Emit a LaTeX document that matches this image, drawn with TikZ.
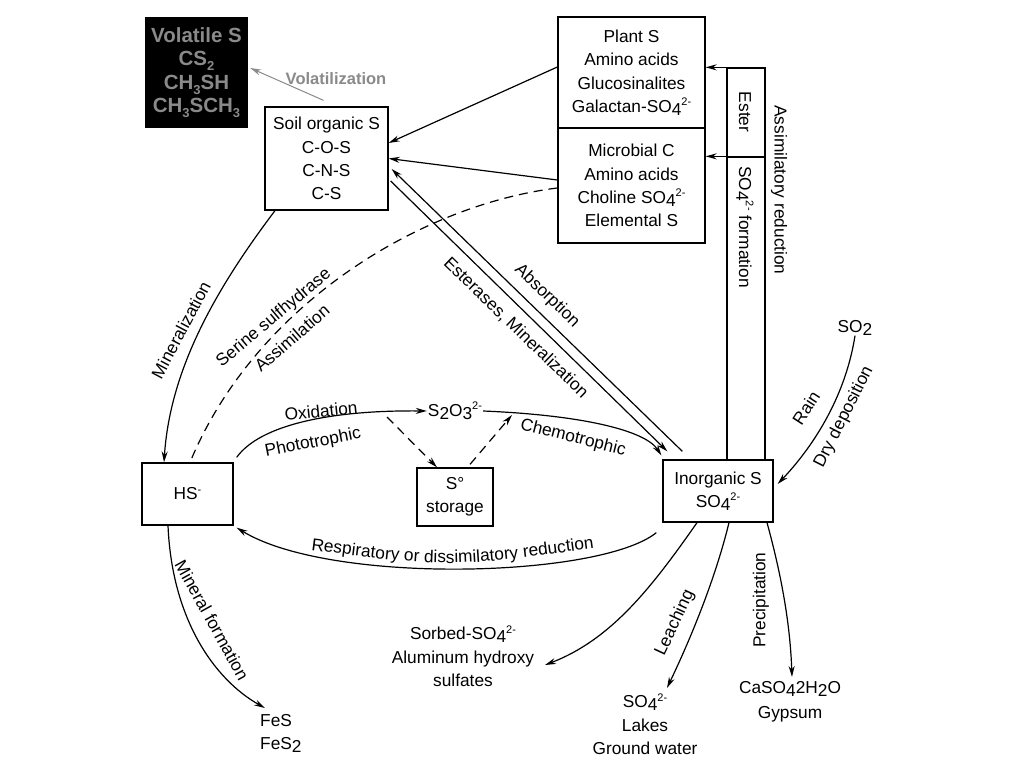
\documentclass[tikz,border=0pt]{standalone}
\usepackage{fontspec}
\setmainfont{Liberation Sans}
\usetikzlibrary{arrows.meta,decorations.text}
\definecolor{volgray}{RGB}{138,138,138}
\newcommand{\mydn}[1]{\raisebox{-0.3ex}{#1}}
\newcommand{\myup}[1]{\raisebox{0.75ex}{\fontsize{11}{11}\selectfont #1}}
\newcommand{\vsub}[1]{\raisebox{-0.45ex}{\fontsize{13}{13}\selectfont #1}}
\begin{document}
\begin{tikzpicture}[x=1pt,y=-1pt,
  every node/.style={font=\fontsize{17.3}{23.3}\selectfont},
  box/.style={draw, line width=1.3pt, inner sep=0pt, align=center},
  lbl/.style={inner sep=0pt},
  grp/.style={inner sep=0pt, align=center},
  arr/.style={line width=1.2pt, -{Stealth[length=11pt,width=6pt]}},
  ln/.style={line width=1.2pt},
  dsh/.style={line width=1.2pt, dash pattern=on 9pt off 6pt},
]
\useasboundingbox (0,0) rectangle (1024,768);
\fill[white] (0,0) rectangle (1024,768);

% boxes
\node[fill=black, minimum width=103, minimum height=111, inner sep=0pt, align=center,
      text=volgray, font=\bfseries\fontsize{20.5}{23.5}\selectfont] (vol) at (196.5,72.5)
  {Volatile S\\CS\vsub{2}\\CH\vsub{3}SH\\CH\vsub{3}SCH\vsub{3}};
\node[box, minimum width=123, minimum height=103] (soil) at (326.5,158.5)
  {Soil organic S\\C-O-S\\C-N-S\\C-S};
\node[box, minimum width=147, minimum height=111] (plant) at (631.5,72.5)
  {Plant S\\Amino acids\\Glucosinalites\\Galactan-SO\mydn{4}\myup{2-}};
\node[box, minimum width=147, minimum height=115] (micro) at (631.5,185.5)
  {Microbial C\\Amino acids\\Choline SO\mydn{4}\myup{2-}\\Elemental S};
\node[box, minimum width=38, minimum height=89] (ester) at (746,112.5) {};
\node[box, minimum width=38, minimum height=303] (form) at (746,308.5) {};
\node[box, minimum width=110, minimum height=62] (inorg) at (718,491)
  {Inorganic S\\SO\mydn{4}\myup{2-}};
\node[box, minimum width=91, minimum height=62] (hs) at (187.5,494) {HS\myup{-}};
\node[box, minimum width=76, minimum height=58] (stor) at (455,497) {S°\\storage};

% plain texts
\node[lbl, inner sep=1pt] (s2o3) at (455,411) {S\mydn{2}O\mydn{3}\myup{2-}};
\node[lbl, rotate=-90] (estert) at (745,112) {Ester};
\node[lbl, rotate=-90] (formt) at (745,227) {SO\mydn{4}\myup{2-} formation};
\node[lbl, rotate=-90] (assimt) at (779,190) {Assimilatory reduction};
\node[lbl, text=volgray, font=\bfseries\fontsize{16.5}{20}\selectfont] (volt) at (336,79) {Volatilization};
\node[lbl, rotate=62] (minert) at (181,330) {Mineralization};
\node[lbl, rotate=40] (serint) at (274,318) {Serine sulfhydrase};
\node[lbl, rotate=41] (assimlt) at (292,338) {Assimilation};
\node[lbl, rotate=-44] (absort) at (547,296) {Absorption};
\node[lbl, rotate=-44] (esterat) at (516,328) {Esterases, Mineralization};
\node[lbl, rotate=6] (oxidt) at (321,411) {Oxidation};
\node[lbl, rotate=11] (photot) at (313,443) {Phototrophic};
\node[lbl, rotate=-14] (chemot) at (573,438) {Chemotrophic};
\node[lbl] (so2) at (855,328) {SO\mydn{2}};
\node[lbl, rotate=57] (raint) at (806,408) {Rain};
\node[lbl, rotate=63] (dryt) at (844,417) {Dry deposition};
\node[lbl, rotate=-61] (mineft) at (212,620) {Mineral formation};
\node[lbl, rotate=65] (leacht) at (675,623) {Leaching};
\node[lbl, rotate=90] (precit) at (761,600) {Precipitation};
\node[grp] (sorbed) at (463,656) {Sorbed-SO\mydn{4}\myup{2-}\\Aluminum hydroxy\\sulfates};
\node[grp] (lakes) at (645,724) {SO\mydn{4}\myup{2-}\\Lakes\\Ground water};
\node[grp, font=\fontsize{17.3}{25}\selectfont] (gyps) at (790,702) {CaSO\mydn{4}2H\mydn{2}O\\Gypsum};
\node[grp, align=left, anchor=west] (fes) at (260,733) {FeS\\FeS\mydn{2}};

% free ends
\coordinate (dashA) at (387,417);
\coordinate (dashB) at (512,415);
\coordinate (fesend) at (265,708);
\coordinate (sorbend) at (545,665);
\coordinate (leachend) at (667,688);
\coordinate (gypend) at (792,677);

% connectors
\draw[arr, volgray, line width=1pt] ([shift={(-3,-6)}]soil.north) -- ([shift={(2,-4.5)}]vol.east);
\draw[arr] ([shift={(0,-5.5)}]plant.west) -- ([shift={(0,-15.5)}]soil.east);
\draw[arr] ([shift={(0,-5.5)}]micro.west) -- (soil.east);
\draw[arr] ([shift={(20,-8)}]inorg.north west) -- ([shift={(3,10.5)}]soil.east);
\draw[arr] ([shift={(2,22.5)}]soil.east) -- ([shift={(5,-8)}]inorg.north west);
\draw[arr] ([shift={(-51.5,0)}]soil.south) .. controls (215,290) and (170,370) .. ([shift={(-23.5,0)}]hs.north);
\draw[dsh] ([shift={(0,2.5)}]micro.west) .. controls (420,205) and (255,305) .. ([shift={(2.5,0)}]hs.north);
\draw[arr] ([shift={(3,-5)}]hs.north east) .. controls (260,425) and (330,410) .. (s2o3.west);
\draw[arr] (s2o3.east) .. controls (580,415) and (645,430) .. ([shift={(-1,-4)}]inorg.north west);
\draw[arr, dsh] (dashA) -- ([shift={(-18,0)}]stor.north);
\draw[arr, dsh] ([shift={(15,-3)}]stor.north) -- (dashB);
\draw[arr] ([shift={(-6,10)}]inorg.south west) .. controls (600,578) and (330,585) .. ([shift={(3,2)}]hs.south east);
\draw[arr] ([shift={(-19.5,0)}]hs.south) .. controls (172,620) and (215,680) .. (fesend);
\draw[arr] (so2.south) .. controls (845,400) and (810,450) .. ([shift={(4,-7)}]inorg.east);
\draw[arr] ([shift={(-21,0)}]inorg.south) .. controls (650,590) and (610,640) .. (sorbend);
\draw[arr] ([shift={(11,0)}]inorg.south) .. controls (715,580) and (690,640) .. (leachend);
\draw[arr] ([shift={(49,0)}]inorg.south) .. controls (780,570) and (790,620) .. (gypend);
\draw[arr] (ester.north west) -- (ester.north west -| plant.east);
\draw[arr] (form.north west) -- (form.north west -| micro.east);

% curved label
\path[decorate, decoration={text along path,
  text={|\fontsize{17.3}{20}\selectfont|Respiratory or dissimilatory reduction},
  text align=center}] (303,549) .. controls (450,568) .. (602,547);
\end{tikzpicture}
\end{document}
